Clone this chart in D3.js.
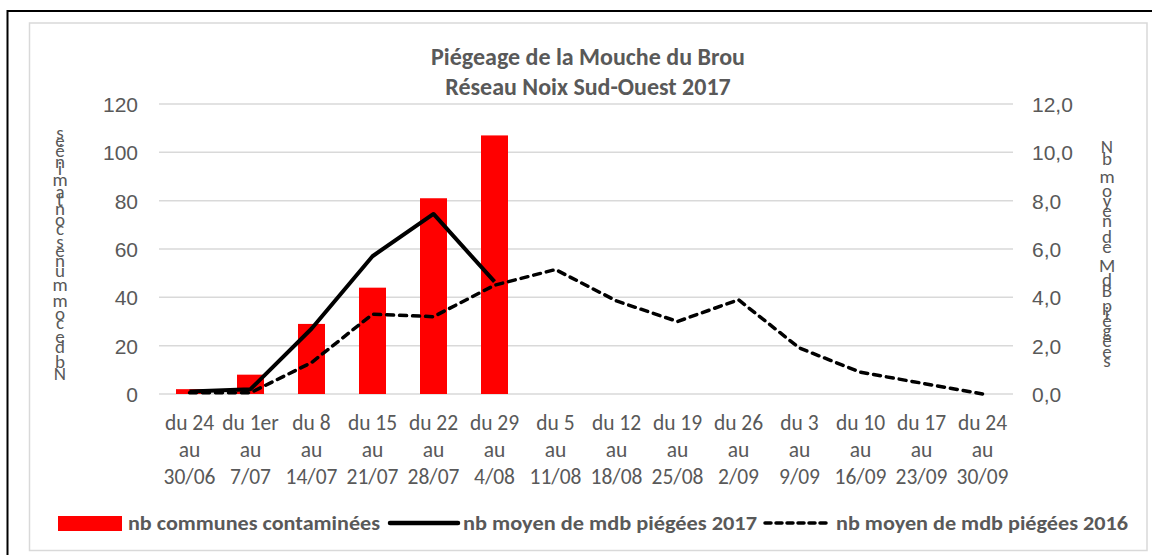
<!DOCTYPE html>
<html><head><meta charset="utf-8">
<script src="https://cdn.jsdelivr.net/npm/d3@7"></script>
<style>
html,body{margin:0;padding:0;background:#fff;}
svg{display:block;font-family:Carlito, Calibri, Lato, "Open Sans", sans-serif;}
</style></head>
<body>
<svg id="c" width="1152" height="555"></svg>
<script>
const categories = [
  ["du 24","au","30/06"],["du 1er","au","7/07"],["du 8","au","14/07"],["du 15","au","21/07"],
  ["du 22","au","28/07"],["du 29","au","4/08"],["du 5","au","11/08"],["du 12","au","18/08"],
  ["du 19","au","25/08"],["du 26","au","2/09"],["du 3","au","9/09"],["du 10","au","16/09"],
  ["du 17","au","23/09"],["du 24","au","30/09"]
];
const communes = [2, 8, 29, 44, 81, 107, null, null, null, null, null, null, null, null];
const mdb2017 = [0.1, 0.2, 2.7, 5.7, 7.45, 4.65, null, null, null, null, null, null, null, null];
const mdb2016 = [0.05, 0.05, 1.3, 3.3, 3.2, 4.5, 5.15, 3.85, 3.0, 3.9, 1.9, 0.9, 0.45, 0.0];
const leftTicks = [0, 20, 40, 60, 80, 100, 120];
const rightTicks = [0, 2, 4, 6, 8, 10, 12];
const titleLines = ["Piégeage de la Mouche du Brou", "Réseau Noix Sud-Ouest 2017"];
const leftTitle = "Nb de communes contaminées";
const rightTitle = "Nb moyen de MdB piégées";
const legendLabels = ["nb communes contaminées", "nb moyen de mdb piégées 2017", "nb moyen de mdb piégées 2016"];

const svg = d3.select("#c");
const txt = "#595959", grid = "#d9d9d9";

// frames
svg.append("rect").attr("x",7.5).attr("y",11).attr("width",1160).attr("height",560)
  .attr("fill","#fff").attr("stroke","#000").attr("stroke-width",2);
svg.append("rect").attr("x",29.5).attr("y",23).attr("width",1117.5).attr("height",527.5)
  .attr("fill","#fff").attr("stroke","#d9d9d9").attr("stroke-width",1.5);

const idx = categories.map((d,i)=>i);
const x = d3.scaleBand().domain(idx).range([159,1013]).padding(0);
const yL = d3.scaleLinear().domain([0,120]).range([394,104]);
const yR = d3.scaleLinear().domain([0,12]).range([394,104]);

// gridlines
svg.append("g").selectAll("line").data(leftTicks).join("line")
  .attr("x1",159).attr("x2",1013).attr("y1",d=>yL(d)).attr("y2",d=>yL(d))
  .attr("stroke",grid).attr("stroke-width",1.5);

// left axis
const axL = d3.axisLeft(yL).tickValues(leftTicks).tickSize(0).tickPadding(0);
const gL = svg.append("g").attr("transform","translate(138,0)").call(axL);
gL.select(".domain").remove();
gL.selectAll("text").attr("fill",txt).style("font-size","21px").attr("dy","0.35em");

// right axis
const fmtR = d => d.toFixed(1).replace(".", ",");
const axR = d3.axisRight(yR).tickValues(rightTicks).tickSize(0).tickPadding(0).tickFormat(fmtR);
const gR = svg.append("g").attr("transform","translate(1032,0)").call(axR);
gR.select(".domain").remove();
gR.selectAll("text").attr("fill",txt).style("font-size","21px").attr("dy","0.35em");

// x labels
const xl = svg.append("g");
categories.forEach((lines,i)=>{
  const cx = x(i)+x.bandwidth()/2;
  const t = xl.append("text").attr("x",cx).attr("y",430)
    .attr("text-anchor","middle").attr("fill",txt).style("font-size","21.5px");
  lines.forEach((s,j)=>t.append("tspan").attr("x",cx).attr("dy",j?27:0).text(s));
});

// bars
const bw = 27;
svg.append("g").selectAll("rect").data(communes.map((v,i)=>({v,i})).filter(d=>d.v!=null)).join("rect")
  .attr("x",d=>x(d.i)+x.bandwidth()/2-bw/2).attr("width",bw)
  .attr("y",d=>yL(d.v)).attr("height",d=>yL(0)-yL(d.v)).attr("fill","#ff0000");

// lines
const line = d3.line().defined(d=>d.v!=null).x(d=>x(d.i)+x.bandwidth()/2).y(d=>yR(d.v));
svg.append("path").datum(mdb2016.map((v,i)=>({v,i}))).attr("d",line)
  .attr("fill","none").attr("stroke","#000").attr("stroke-width",3.5)
  .attr("stroke-dasharray","7,6").attr("stroke-linecap","round").attr("stroke-linejoin","round");
svg.append("path").datum(mdb2017.map((v,i)=>({v,i}))).attr("d",line)
  .attr("fill","none").attr("stroke","#000").attr("stroke-width",4).attr("stroke-linejoin","round");

// title
const tt = svg.append("text").attr("x",588).attr("y",65).attr("text-anchor","middle")
  .attr("fill",txt).style("font-size","24px").style("font-weight","bold");
titleLines.forEach((s,j)=>tt.append("tspan").attr("x",588).attr("dy",j?30:0).text(s));

// stacked axis titles (upright glyphs along a vertical baseline)
function stacked(str, cx, yStart, yEnd, dir){
  const g = svg.append("g");
  const chars = Array.from(str);
  const fs = "19px";
  const tmp = g.append("text").style("font-size",fs);
  const adv = chars.map(c=>{ tmp.text(c===" "?"\u00a0":c); return tmp.node().getComputedTextLength(); });
  tmp.remove();
  const total = d3.sum(adv);
  const k = Math.abs(yEnd-yStart)/total;
  let pos = 0;
  chars.forEach((c,i)=>{
    const a = adv[i]*k;
    const y = yStart + dir*(pos + a/2);
    pos += a;
    if(c===" ") return;
    g.append("text").attr("x",cx).attr("y",y).attr("dy","0.35em").attr("text-anchor","middle")
      .attr("fill",txt).style("font-size",fs).text(c);
  });
}
stacked(leftTitle, 60, 380, 128, -1);
stacked(rightTitle, 1107, 140, 364, 1);

// legend
const ly = 523;
const lg = svg.append("g");
lg.append("rect").attr("x",58).attr("y",516).attr("width",64).attr("height",15).attr("fill","#ff0000");
lg.append("line").attr("x1",390).attr("x2",458).attr("y1",ly).attr("y2",ly).attr("stroke","#000").attr("stroke-width",4.5).attr("stroke-linecap","round");
lg.append("line").attr("x1",765).attr("x2",831).attr("y1",ly).attr("y2",ly).attr("stroke","#000").attr("stroke-width",3.5)
  .attr("stroke-dasharray","6,5").attr("stroke-linecap","round");
[[128,380],[463,757],[836,1128]].forEach(([lx,rx],i)=>{
  lg.append("text").attr("x",lx).attr("y",ly).attr("dy","0.35em").attr("fill",txt)
    .attr("textLength",rx-lx).attr("lengthAdjust","spacingAndGlyphs")
    .style("font-size","21px").style("font-weight","bold").text(legendLabels[i]);
});
</script>
</body></html>
